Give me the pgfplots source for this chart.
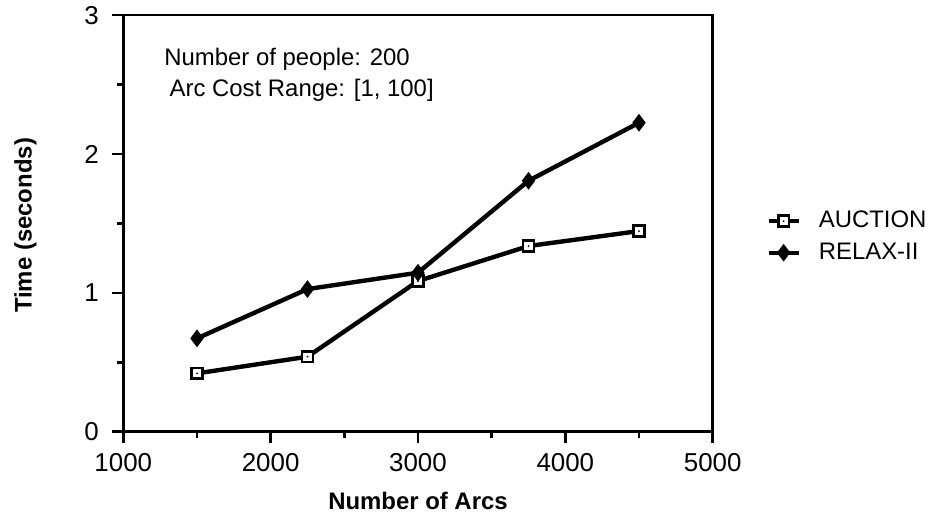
\documentclass[border=0pt]{standalone}
\usepackage{fontspec}
\setmainfont{Liberation Sans}
\usepackage{pgfplots}
\pgfplotsset{compat=1.18}
\pgfdeclareplotmark{sqdot}{%
  \pgfpathrectangle{\pgfpoint{-\pgfplotmarksize}{-\pgfplotmarksize}}{\pgfpoint{2\pgfplotmarksize}{2\pgfplotmarksize}}%
  \pgfsetfillcolor{white}\pgfusepath{fill,stroke}%
  \pgfpathcircle{\pgfpointorigin}{0.5bp}\pgfsetfillcolor{black}\pgfusepath{fill}}
\begin{document}
\begin{tikzpicture}
\useasboundingbox (-61.65bp,-45.65bp) rectangle (405.85bp,215.85bp);
\begin{axis}[
  at={(0,0)}, anchor=south west,
  scale only axis, width=294.7bp, height=208.3bp,
  xmin=1000, xmax=5000, ymin=0, ymax=3,
  xtick={1000,2000,3000,4000,5000},
  ytick={0,1,2,3},
  minor x tick num=1, minor y tick num=1,
  xtick pos=bottom, ytick pos=left,
  tick align=outside,
  major tick length=5.8bp, minor tick length=3bp,
  every tick/.style={black, line width=1.3bp},
  axis line style={line width=1.3bp},
  /pgf/number format/assume math mode=true,
  /pgf/number format/set thousands separator={},
  ticklabel style={font=\fontsize{13}{13}\selectfont},
  xticklabel style={yshift=-1.6bp},
  yticklabel style={xshift=-3bp},
  label style={font=\fontsize{12}{12}\selectfont\bfseries},
  xlabel={Number of Arcs},
  ylabel={Time (seconds)},
  xlabel style={at={(axis description cs:0.5,-0.166)}, anchor=center},
  ylabel style={at={(axis description cs:-0.166,0.495)}, anchor=center},
  legend style={at={(axis description cs:1.0905,0.53)}, anchor=north west, draw=none, fill=none,
    inner sep=0pt, font=\fontsize{12}{12}\selectfont, column sep=9bp, row sep=6bp,
    nodes={inner sep=0pt}},
  legend cell align=left,
  legend image code/.code={\draw[mark repeat=2,mark phase=2] plot coordinates {(0bp,0bp)(7.5bp,0bp)(15bp,0bp)};},
]
\addplot[black, line width=2.2bp, mark=sqdot, mark size=2.7bp, mark options={line width=1.3bp, solid}]
  coordinates {(1500,0.42) (2250,0.54) (3000,1.085) (3750,1.337) (4500,1.445)};
\addlegendentry{AUCTION}
\addplot[black, line width=2.2bp, mark=diamond*, mark size=3.8bp, mark options={line width=0.8bp, solid, fill=black}]
  coordinates {(1500,0.672) (2250,1.027) (3000,1.145) (3750,1.807) (4500,2.225)};
\addlegendentry{RELAX-II}
\node[anchor=base west, inner sep=0pt, font=\fontsize{12}{12}\selectfont] at (axis cs:1276,2.64) {Number of people: 200};
\node[anchor=base west, inner sep=0pt, font=\fontsize{12}{12}\selectfont] at (axis cs:1312,2.412) {Arc Cost Range: [1, 100]};
\end{axis}
\end{tikzpicture}
\end{document}
